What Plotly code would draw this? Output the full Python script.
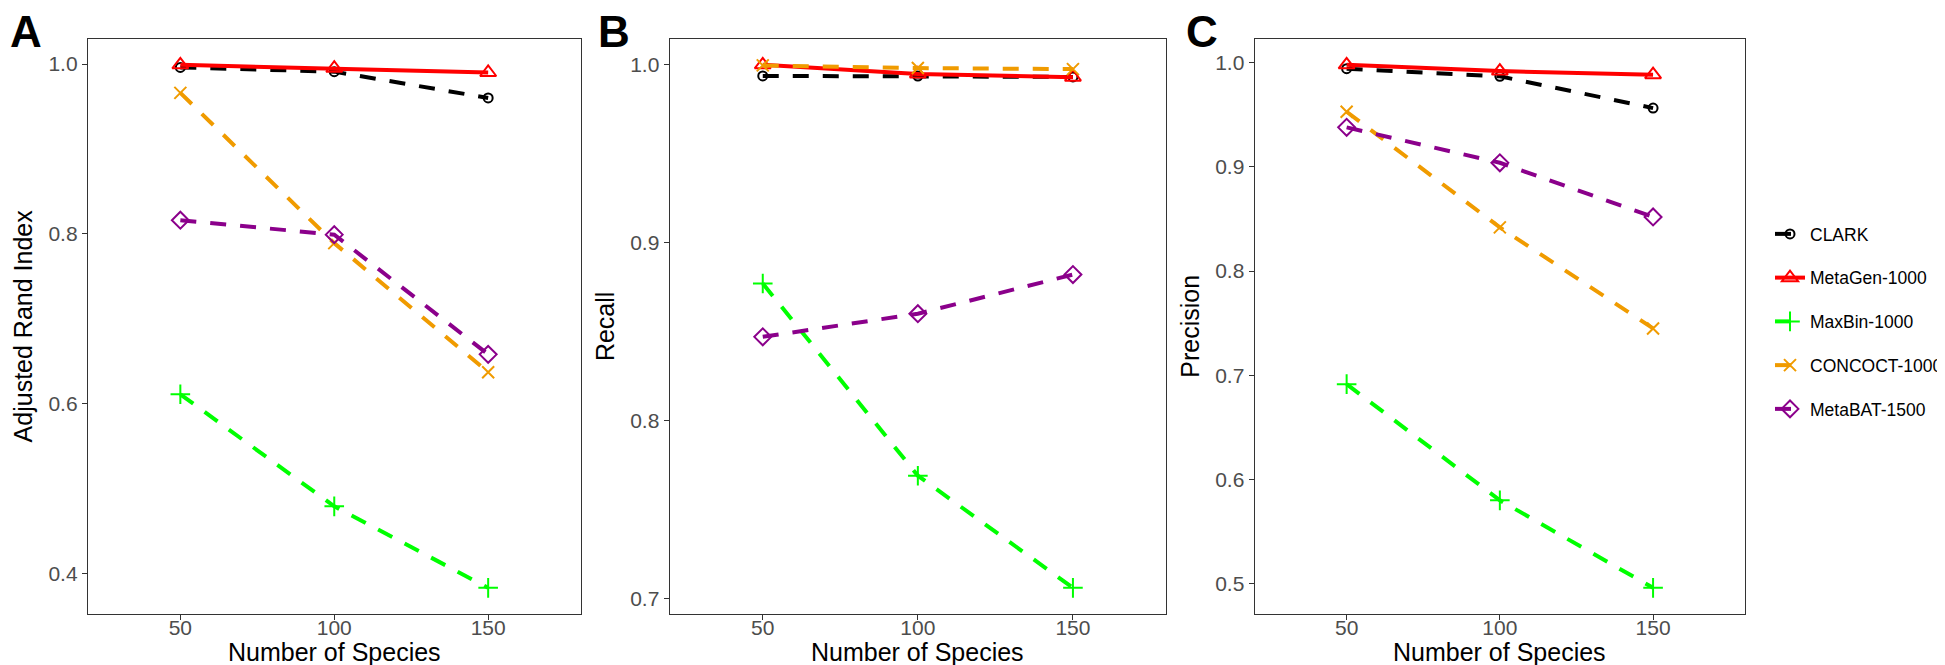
import plotly.graph_objects as go
from plotly.subplots import make_subplots

# data
species = [50, 100, 150]
methods = ["CLARK", "MetaGen-1000", "MaxBin-1000", "CONCOCT-1000", "MetaBAT-1500"]

ari_clark = [0.996, 0.991, 0.960]
ari_metagen = [0.999, 0.995, 0.990]
ari_maxbin = [0.611, 0.479, 0.383]
ari_concoct = [0.966, 0.789, 0.637]
ari_metabat = [0.816, 0.799, 0.658]

recall_clark = [0.9936, 0.9935, 0.9930]
recall_metagen = [0.9998, 0.9947, 0.9929]
recall_maxbin = [0.877, 0.769, 0.706]
recall_concoct = [0.9995, 0.9980, 0.9974]
recall_metabat = [0.847, 0.860, 0.882]

prec_clark = [0.9943, 0.987, 0.9565]
prec_metagen = [0.998, 0.992, 0.9886]
prec_maxbin = [0.6915, 0.580, 0.496]
prec_concoct = [0.953, 0.842, 0.745]
prec_metabat = [0.938, 0.904, 0.852]

panels = [
    ("A", "Adjusted Rand Index", [ari_clark, ari_metagen, ari_maxbin, ari_concoct, ari_metabat], [0.4, 0.6, 0.8, 1.0]),
    ("B", "Recall", [recall_clark, recall_metagen, recall_maxbin, recall_concoct, recall_metabat], [0.7, 0.8, 0.9, 1.0]),
    ("C", "Precision", [prec_clark, prec_metagen, prec_maxbin, prec_concoct, prec_metabat], [0.5, 0.6, 0.7, 0.8, 0.9, 1.0]),
]

colors = ["#000000", "#FF0000", "#00FF00", "#F09B00", "#8B008B"]
symbols = ["circle-open", "triangle-up-open", "cross-thin-open", "x-thin-open", "diamond-open"]
msizes = [9, 14, 14, 12, 13]
dashes = ["16px,14px", "solid", "16px,14px", "16px,14px", "16px,14px"]

W, H = 1945, 665
# plot boxes in pixels (left, right), shared top/bottom
boxes = [(80, 572.5), (661.7, 1158), (1246.7, 1737)]
top_px, bot_px = 30.7, 606

fig = make_subplots(rows=1, cols=3)

for p, (letter, ytitle, series, yticks) in enumerate(panels):
    for i, name in enumerate(methods):
        fig.add_trace(go.Scatter(
            x=species, y=series[i], name=name, mode="lines+markers",
            legendgroup=name, showlegend=(p == 0),
            line=dict(color=colors[i], width=4, dash=dashes[i]),
            marker=dict(symbol=symbols[i], size=msizes[i], color=colors[i],
                        line=dict(color=colors[i], width=2)),
        ), row=1, col=p + 1)

    allv = [v for s in series for v in s]
    lo, hi = min(allv), max(allv)
    pad = (hi - lo) * 0.05
    ax = "" if p == 0 else str(p + 1)
    l, r = boxes[p]
    axis_common = dict(showline=True, mirror=True, linecolor="#333333", linewidth=1.3,
                       ticks="outside", ticklen=5, tickwidth=1.3, tickcolor="#333333",
                       showgrid=False, zeroline=False,
                       tickfont=dict(size=21, color="#4D4D4D"))
    fig.update_layout(**{
        "xaxis" + ax: dict(domain=[l / W, r / W], range=[20, 180], tickvals=species,
                           ticklabelstandoff=-10, **axis_common),
        "yaxis" + ax: dict(domain=[1 - bot_px / H, 1 - top_px / H], range=[lo - pad, hi + pad],
                           tickvals=yticks, tickformat=".1f",
                           title=dict(text=ytitle, font=dict(size=25, color="black"), standoff=8),
                           **axis_common),
    })
    # x-axis title, centred under the panel
    fig.add_annotation(text="Number of Species", xref="paper", yref="paper",
                       x=(l + r) / 2 / W, y=1 - 644 / H, xanchor="center", yanchor="middle",
                       showarrow=False, font=dict(size=25, color="black"))
    fig.add_annotation(text="<b>" + letter + "</b>", xref="paper", yref="paper",
                       x=[0, 588, 1176][p] / W, y=1 - 24 / H, xanchor="left", yanchor="middle",
                       showarrow=False, font=dict(size=44, color="black"))

fig.update_layout(
    width=W, height=H,
    margin=dict(l=0, r=0, t=0, b=0),
    paper_bgcolor="white", plot_bgcolor="white",
    font=dict(family="Liberation Sans, Arial, sans-serif", color="black"),
    legend=dict(x=1762 / W, y=1 - 208 / H, xanchor="left", yanchor="top",
                font=dict(size=17.5, color="black"), tracegroupgap=18,
                traceorder="grouped", bgcolor="rgba(0,0,0,0)"),
)

fig.write_html("out.html")
